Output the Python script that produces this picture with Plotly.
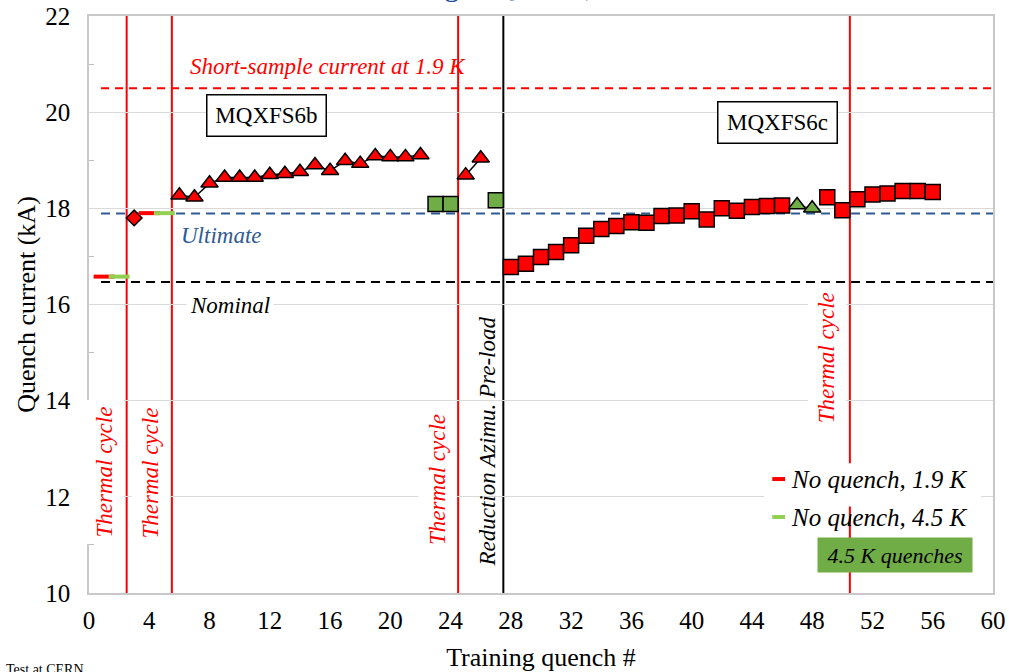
import plotly.graph_objects as go

# ---------------- data ----------------
# MQXFS6b, 1.9 K quenches (triangles)
q6b_tri_a = [6, 7, 8, 9, 10, 11, 12, 13, 14, 15, 16, 17, 18, 19, 20, 21, 22]
i6b_tri_a = [18.27, 18.23, 18.52, 18.64, 18.64, 18.64, 18.70, 18.72, 18.76,
             18.90, 18.78, 18.99, 18.93, 19.09, 19.07, 19.07, 19.11]
q6b_tri_b = [25, 26]
i6b_tri_b = [18.69, 19.04]
# first quench (diamond)
q6b_dia = [3]
i6b_dia = [17.80]
# 4.5 K quenches (green squares) on MQXFS6b
q45_sq = [23, 24, 27]
i45_sq = [18.09, 18.09, 18.17]
# no-quench ramps
q_nq19 = [1, 4]
i_nq19 = [16.58, 17.90]
q_nq45 = [2, 5]
i_nq45 = [16.58, 17.90]
# MQXFS6c, 1.9 K quenches (squares)
q6c_sq_a = [28, 29, 30, 31, 32, 33, 34, 35, 36, 37, 38, 39, 40, 41, 42, 43, 44, 45, 46]
i6c_sq_a = [16.78, 16.85, 16.99, 17.09, 17.23, 17.43, 17.57, 17.63, 17.71, 17.70,
            17.84, 17.85, 17.94, 17.77, 18.00, 17.95, 18.03, 18.05, 18.06]
q6c_tri45 = [47, 48]
i6c_tri45 = [18.07, 18.00]
q6c_sq_b = [49, 50]
i6c_sq_b = [18.23, 17.96]
q6c_sq_c = [51, 52, 53, 54, 55, 56]
i6c_sq_c = [18.19, 18.29, 18.31, 18.36, 18.36, 18.34]

# reference levels (kA) and events
short_sample = 20.5
ultimate = 17.89
nominal = 16.47
thermal_cycles = [2.5, 5.5, 24.5, 50.5]
preload_change = 27.5

RED = "#FF0000"
GREEN = "#70AD47"
LGREEN = "#92D050"
BLUE = "#2E5A94"
SERIF = "'Liberation Serif', 'Times New Roman', Times, serif"

fig = go.Figure()

def add_series(x, y, symbol, size, fill, line_color="black", line_width=1.5, mode="lines+markers"):
    fig.add_trace(go.Scatter(
        x=x, y=y, mode=mode, showlegend=False, hoverinfo="x+y",
        line=dict(color=line_color, width=line_width),
        marker=dict(symbol=symbol, size=size, color=fill,
                    line=dict(color="black", width=1.5)),
    ))

add_series(q6b_tri_a, i6b_tri_a, "triangle-up", 15, RED)
add_series(q6b_tri_b, i6b_tri_b, "triangle-up", 15, RED)
add_series(q6b_dia, i6b_dia, "diamond", 12, RED, mode="markers")
add_series(q45_sq, i45_sq, "square", 15, GREEN, mode="markers")
add_series(q6c_sq_a, i6c_sq_a, "square", 15, RED)
add_series(q6c_tri45, i6c_tri45, "triangle-up", 15, GREEN, line_color="#C04040", line_width=1)
add_series(q6c_sq_b, i6c_sq_b, "square", 15, RED)
add_series(q6c_sq_c, i6c_sq_c, "square", 15, RED)

for xs, ys, col in [(q_nq19, i_nq19, RED), (q_nq45, i_nq45, LGREEN)]:
    fig.add_trace(go.Scatter(
        x=xs, y=ys, mode="markers", showlegend=False,
        marker=dict(symbol="line-ew", size=15, line=dict(color=col, width=4)),
    ))

shapes = []
# horizontal reference lines
for lvl, col, dash in [(short_sample, RED, "8px,6px"), (ultimate, BLUE, "9px,6px"),
                       (nominal, "black", "9px,6px")]:
    shapes.append(dict(type="line", xref="x", yref="y", x0=0.8, x1=60, y0=lvl, y1=lvl,
                       line=dict(color=col, width=2, dash=dash), layer="between"))
# vertical event lines
for xc in thermal_cycles:
    shapes.append(dict(type="line", xref="x", yref="paper", x0=xc, x1=xc, y0=0, y1=1,
                       line=dict(color=RED, width=2), layer="between"))
shapes.append(dict(type="line", xref="x", yref="paper", x0=preload_change, x1=preload_change,
                   y0=0, y1=1, line=dict(color="black", width=2), layer="between"))
# legend background
shapes.append(dict(type="rect", xref="x", yref="y", x0=44.8, x1=59.2, y0=11.8, y1=12.7,
                   fillcolor="white", line=dict(width=0), layer="between"))
# legend dashes
for yl, col in [(12.37, RED), (11.58, LGREEN)]:
    shapes.append(dict(type="line", xref="x", yref="y", x0=45.35, x1=46.2, y0=yl, y1=yl,
                       line=dict(color=col, width=4), layer="above"))

ann = []
def txt(x, y, s, color="black", size=23, italic=True, angle=0, bg=None, pad=0, **kw):
    d = dict(x=x, y=y, xref="x", yref="y", text=s, showarrow=False, textangle=angle,
             font=dict(family=SERIF, size=size, color=color,
                       style="italic" if italic else "normal"),
             borderpad=pad)
    if bg:
        d["bgcolor"] = bg
    d.update(kw)
    ann.append(d)

txt(15.85, 20.94, "Short-sample current at 1.9 K", RED)
txt(8.81, 17.43, "Ultimate", BLUE)
txt(9.34, 15.97, "Nominal", "black", bg="white", pad=3)
txt(11.77, 19.93, "MQXFS6b", italic=False, bg="white", pad=7,
    bordercolor="black", borderwidth=1.5, width=104, height=26)
txt(45.72, 19.79, "MQXFS6c", italic=False, bg="white", pad=7,
    bordercolor="black", borderwidth=1.5, width=104, height=26)
txt(1.04, 12.52, "Thermal cycle", RED, angle=-90, bg="white", pad=6)
txt(4.10, 12.50, "Thermal cycle", RED, angle=-90, bg="white", pad=6)
txt(23.09, 12.37, "Thermal cycle", RED, angle=-90, bg="white", pad=6)
txt(48.97, 14.90, "Thermal cycle", RED, angle=-90, bg="white", pad=6)
txt(26.45, 13.14, "Reduction Azimu. Pre-load", "black", angle=-90)
txt(46.55, 12.37, "No quench, 1.9 K", size=25, xanchor="left")
txt(46.55, 11.58, "No quench, 4.5 K", size=25, xanchor="left")
txt(53.5, 10.79, "4.5 K quenches", size=22, bg=GREEN, pad=0, width=154, height=34)

# slide title (clipped at the top edge, as in the source slide) and footer
ann.append(dict(x=(355 - 89) / 904, y=1.0, xref="paper", yref="paper",
                xanchor="left", yanchor="bottom", yshift=12,
                text="Training MQXFS6, 1.9 K and 4.5 K", showarrow=False,
                font=dict(family=SERIF, size=30, color="#1F4E9A")))
ann.append(dict(x=(4 - 89) / 904, y=(593 - 660) / 577, xref="paper", yref="paper",
                xanchor="left", yanchor="top",
                text="Test at CERN", showarrow=False,
                font=dict(family=SERIF, size=14, color="black")))

fig.update_layout(
    width=1009, height=672,
    margin=dict(l=89, r=16, t=16, b=79),
    paper_bgcolor="white", plot_bgcolor="white",
    font=dict(family=SERIF, color="black"),
    shapes=shapes, annotations=ann,
)
fig.update_xaxes(
    range=[0, 60], tickmode="linear", tick0=0, dtick=4, showgrid=False, automargin=False,
    showline=True, mirror=True, linecolor="#C8C8C8", linewidth=1.5,
    ticks="", ticklabelstandoff=4, tickfont=dict(size=25, family=SERIF),
    title=dict(text="Training quench #", font=dict(size=26, family=SERIF), standoff=16),
    zeroline=False,
)
fig.update_yaxes(
    range=[10, 22], tickmode="linear", tick0=10, dtick=2, automargin=False,
    showgrid=True, gridcolor="#D9D9D9", gridwidth=1.3,
    showline=True, mirror=True, linecolor="#C8C8C8", linewidth=1.5,
    ticks="", ticklabelstandoff=12, tickfont=dict(size=25, family=SERIF),
    minor=dict(dtick=1, ticks="inside", ticklen=5, tickcolor="#BFBFBF", showgrid=False),
    title=dict(text="Quench current (kA)", font=dict(size=26, family=SERIF), standoff=2),
    zeroline=False,
)

# remove the default 8 px page margin so the 1009x672 figure fills the window
fig.write_html("out.html", config={"displayModeBar": False},
               post_script="document.body.style.margin='0';")
